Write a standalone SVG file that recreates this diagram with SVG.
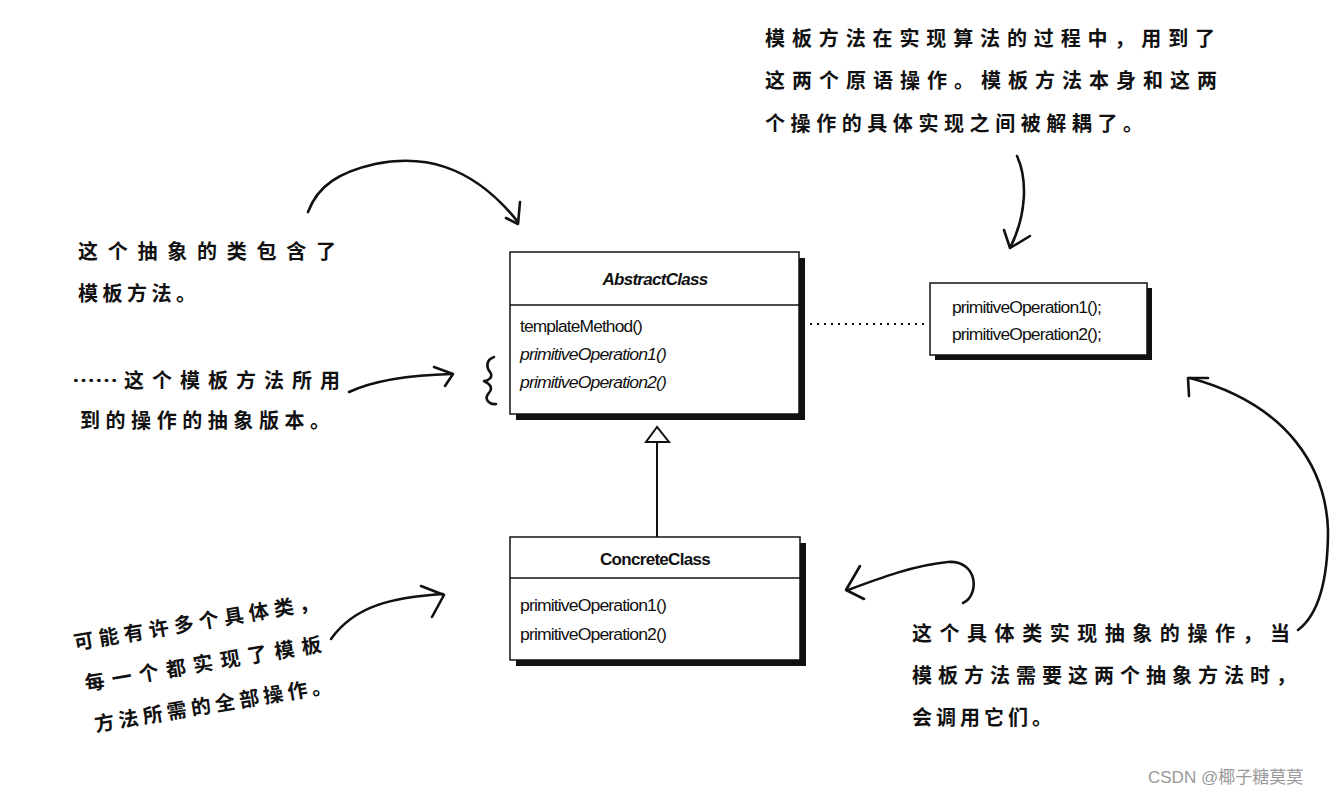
<svg xmlns="http://www.w3.org/2000/svg" width="1334" height="796" viewBox="0 0 1334 796">
<defs>
<style>
.sh{fill:#111;}
.bx{fill:#fff;stroke:#111;stroke-width:1.5;}
.ln{stroke:#111;stroke-width:1.5;fill:none;}
.uml{font-family:"Liberation Sans",Arial,sans-serif;font-size:16px;fill:#111;letter-spacing:-0.8px;}
.ttl{font-family:"Liberation Sans",Arial,sans-serif;font-size:17px;font-weight:bold;fill:#111;letter-spacing:-0.7px;}
.it{font-style:italic;}
.hw{font-family:"Noto Sans CJK SC","Noto Sans CJK JP",sans-serif;font-size:20px;font-weight:bold;fill:#111;}
.pen{fill:none;stroke:#111;stroke-width:2.6;stroke-linecap:round;stroke-linejoin:round;}
.wm{font-family:"Liberation Sans","Noto Sans CJK SC",sans-serif;font-size:17px;fill:#999;}
</style>
</defs>
<rect width="1334" height="796" fill="#fff"/>

<g id="connectors">
<line x1="670" y1="324" x2="928" y2="324" stroke="#111" stroke-width="2" stroke-dasharray="2,5"/>
<line x1="657" y1="442" x2="657" y2="537" stroke="#111" stroke-width="2"/>
<polygon points="657,427 646,442 669,442" fill="#fff" stroke="#111" stroke-width="2"/>
</g>

<g id="AbstractClass">
<rect class="sh" x="516" y="258" width="289" height="162"/>
<rect class="bx" x="510" y="252" width="289" height="162"/>
<line class="ln" x1="510" y1="305" x2="799" y2="305"/>
<text class="ttl it" x="655" y="285" text-anchor="middle">AbstractClass</text>
<text class="uml" x="520" y="332" textLength="122" lengthAdjust="spacingAndGlyphs">templateMethod()</text>
<text class="uml it" x="520" y="360" textLength="146" lengthAdjust="spacingAndGlyphs">primitiveOperation1()</text>
<text class="uml it" x="520" y="388" textLength="146" lengthAdjust="spacingAndGlyphs">primitiveOperation2()</text>
</g>

<g id="ConcreteClass">
<rect class="sh" x="516" y="543" width="290" height="123"/>
<rect class="bx" x="510" y="537" width="290" height="123"/>
<line class="ln" x1="510" y1="578" x2="800" y2="578"/>
<text class="ttl" x="655" y="565" text-anchor="middle">ConcreteClass</text>
<text class="uml" x="520" y="611" textLength="146" lengthAdjust="spacingAndGlyphs">primitiveOperation1()</text>
<text class="uml" x="520" y="640" textLength="146" lengthAdjust="spacingAndGlyphs">primitiveOperation2()</text>
</g>

<g id="PrimitiveOps">
<rect class="sh" x="935" y="288" width="217" height="72"/>
<rect class="bx" x="930" y="283" width="217" height="72"/>
<text class="uml" x="952" y="313" textLength="149" lengthAdjust="spacingAndGlyphs">primitiveOperation1();</text>
<text class="uml" x="952" y="340" textLength="149" lengthAdjust="spacingAndGlyphs">primitiveOperation2();</text>
</g>

<g id="note-abstract">
<text class="hw" x="78" y="259" textLength="258" lengthAdjust="spacing">这个抽象的类包含了</text>
<text class="hw" x="78" y="301" textLength="118" lengthAdjust="spacing">模板方法。</text>
<path class="pen" d="M308,212 C318,185 340,172 375,164 C420,155 470,162 518,222"/>
<path class="pen" d="M506,218 L518,224 L520,202"/>
</g>

<g id="note-primitive">
<text class="hw" x="72" y="388" textLength="46" lengthAdjust="spacingAndGlyphs">……</text>
<text class="hw" x="124" y="388" textLength="216" lengthAdjust="spacing">这个模板方法所用</text>
<text class="hw" x="80" y="428" textLength="250" lengthAdjust="spacing">到的操作的抽象版本。</text>
<path class="pen" d="M349,392 C375,380 410,375 452,374"/>
<path class="pen" d="M434,367 L453,374 L445,386"/>
<path class="pen" d="M494,357 C486,360 486,367 490,372 C494,377 488,381 484,381 C490,384 494,388 488,394 C484,400 490,405 496,404"/>
</g>

<g id="note-decoupled">
<text class="hw" x="765" y="46" textLength="450" lengthAdjust="spacing">模板方法在实现算法的过程中，用到了</text>
<text class="hw" x="765" y="88" textLength="452" lengthAdjust="spacing">这两个原语操作。模板方法本身和这两</text>
<text class="hw" x="765" y="131" textLength="378" lengthAdjust="spacing">个操作的具体实现之间被解耦了。</text>
<path class="pen" d="M1017,156 C1028,180 1026,215 1011,246"/>
<path class="pen" d="M1004,230 L1010,248 L1030,236"/>
</g>

<g id="note-concrete">
<g transform="rotate(-9.5 75 650)">
<text class="hw" x="75" y="650" textLength="248" lengthAdjust="spacing">可能有许多个具体类，</text>
<text class="hw" x="79" y="692" textLength="240" lengthAdjust="spacing">每一个都实现了模板</text>
<text class="hw" x="82" y="734" textLength="240" lengthAdjust="spacing">方法所需的全部操作。</text>
</g>
<path class="pen" d="M331,639 C355,605 395,597 443,594"/>
<path class="pen" d="M421,586 L444,595 L432,617"/>
</g>

<g id="note-calls">
<text class="hw" x="912" y="641" textLength="378" lengthAdjust="spacing">这个具体类实现抽象的操作，当</text>
<text class="hw" x="912" y="683" textLength="384" lengthAdjust="spacing">模板方法需要这两个抽象方法时，</text>
<text class="hw" x="912" y="725" textLength="140" lengthAdjust="spacing">会调用它们。</text>
<path class="pen" d="M963,603 C980,595 978,560 948,562 C915,565 880,578 848,590"/>
<path class="pen" d="M860,566 L846,590 L864,599"/>
<path class="pen" d="M1298,630 C1318,615 1328,580 1328,530 C1326,470 1290,405 1190,378"/>
<path class="pen" d="M1189,396 L1188,378 L1208,378"/>
</g>

<text class="wm" x="1148" y="783">CSDN @椰子糖莫莫</text>
</svg>
